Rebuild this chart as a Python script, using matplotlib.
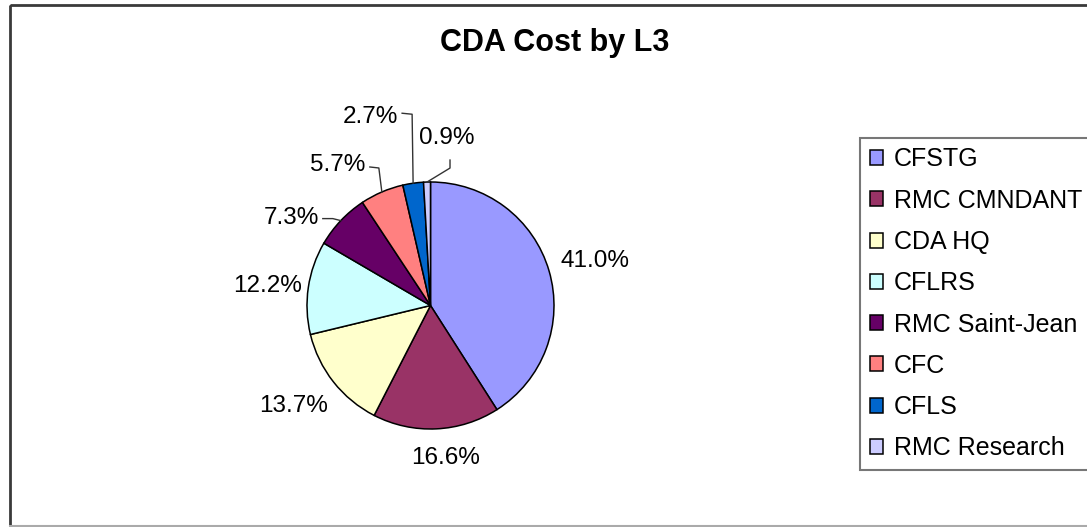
import numpy as np
import matplotlib
matplotlib.use('Agg')
import matplotlib.pyplot as plt
from matplotlib.patches import Rectangle

plt.rcParams['font.family'] = ['Liberation Sans', 'DejaVu Sans']

# data
units = ['CFSTG', 'RMC CMNDANT', 'CDA HQ', 'CFLRS', 'RMC Saint-Jean', 'CFC', 'CFLS', 'RMC Research']
cost_pct = [41.0, 16.6, 13.7, 12.2, 7.3, 5.7, 2.7, 0.9]
colors = ['#9999FF', '#993366', '#FFFFCC', '#CCFFFF', '#660066', '#FF8080', '#0066CC', '#CCCCFF']

W, H = 1087, 527
fig = plt.figure(figsize=(W / 100, H / 100), dpi=100)
ax = fig.add_axes([0, 0, 1, 1])

# pie drawn in pixel-like units, y pointing down
cx, cy, R = 430.5, 305.5, 123.5
wedges, _ = ax.pie(cost_pct, colors=colors, startangle=-90, counterclock=True,
                   center=(cx, cy), radius=R,
                   wedgeprops=dict(edgecolor='black', linewidth=1.1))
ax.set_xlim(0, W)
ax.set_ylim(H, 0)
ax.set_aspect('auto')
ax.axis('off')

# label offsets from the wedge edge (pixels) and leader elbows for small slices
label_off = [(46, -10), (9, 29), (-40, 24), (-41, -2), (-49, -3), (-44, -27), (-43, -66), (20, -44)]
leaders = {4: [(-8, -2), (-18, -2)],
           5: [(-3, -24), (-12, -25)],
           6: [(-1, -69), (-11, -70)],
           7: [(23, -14), (23, -22)]}

for i, (w, v) in enumerate(zip(wedges, cost_pct)):
    mid = np.deg2rad((w.theta1 + w.theta2) / 2)
    ex, ey = cx + R * np.cos(mid), cy + R * np.sin(mid)
    dx, dy = label_off[i]
    ax.text(ex + dx, ey + dy, '%.1f%%' % v, ha='center', va='center', fontsize=17.5, color='black')
    if i in leaders:
        xs = [ex] + [ex + p[0] for p in leaders[i]]
        ys = [ey] + [ey + p[1] for p in leaders[i]]
        ax.plot(xs, ys, color='#333333', lw=1.0)

fig.text(555 / W, 1 - 43 / H, 'CDA Cost by L3', ha='center', va='center',
         fontsize=22, fontweight='bold')

leg = ax.legend(wedges, units, loc='upper left', bbox_to_anchor=(860 / W, 1 - 138 / H),
                bbox_transform=fig.transFigure, fontsize=18, frameon=True, fancybox=False,
                edgecolor='#555555', handlelength=0.55, handleheight=0.55,
                handletextpad=0.42, labelspacing=0.69, borderpad=0.38, borderaxespad=0)
leg.get_frame().set_linewidth(1.5)

# outer chart frame (right side runs off the picture)
ax.add_patch(Rectangle((9.5, 5), 1200, 521, fill=False, edgecolor='#3a3a3a',
                       linewidth=2.0, clip_on=False))
ax.plot([9.5, W], [526, 526], color='#aaaaaa', lw=1.5)

fig.savefig('out.png', dpi=100)
